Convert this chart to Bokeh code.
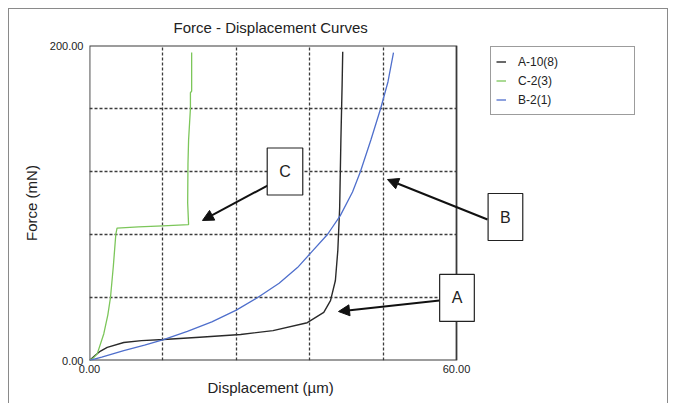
from bokeh.plotting import figure
from bokeh.models import Range1d, FixedTicker, Label, Arrow, NormalHead, Legend, LegendItem, Title
from bokeh.embed import file_html
from bokeh.resources import INLINE

# ---- data ----
series_names = ["A-10(8)", "C-2(3)", "B-2(1)"]

disp_a = [0, 1.0, 1.8, 2.9, 5.6, 8.5, 12.1, 18.0, 24.7, 30.0, 35.6, 38.3, 39.4, 40.2, 40.6, 40.9, 41.1, 41.3, 41.4]
force_a = [0, 3.5, 6.0, 8.3, 11.4, 12.6, 13.3, 14.8, 16.5, 19.0, 24.0, 30.5, 38.0, 50.8, 70.0, 97.0, 140.0, 175.0, 196.0]

disp_c = [0, 0.6, 1.26, 2.34, 3.0, 3.43, 3.9, 4.3, 4.5, 8.0, 12.0, 16.2, 16.05, 16.1, 16.2, 16.5, 16.5, 16.7, 16.7]
force_c = [0, 1.5, 4.2, 17.0, 29.0, 40.0, 60.0, 80.0, 84.0, 84.8, 85.5, 86.3, 100.0, 125.0, 140.0, 160.0, 170.0, 171.0, 195.5]

disp_b = [0, 2.0, 5.6, 9.0, 12.1, 16.0, 20.0, 24.0, 27.5, 31.0, 34.0, 36.1, 38.9, 41.0, 43.0, 44.3, 46.0, 47.6, 48.8, 49.7]
force_b = [0, 2.2, 6.3, 9.8, 13.3, 18.5, 24.5, 32.0, 40.0, 49.0, 59.0, 68.0, 80.0, 92.0, 107.0, 120.0, 140.0, 160.0, 177.0, 195.5]

x_ticks = [0, 60]
x_tick_labels = ["0.00", "60.00"]
y_ticks = [0, 200]
y_tick_labels = ["0.00", "200.00"]
x_grid = [12, 24, 36, 48]
y_grid = [40, 80, 120, 160]

# callouts: letter, box centre (x, y), arrow start (x, y), arrow tip (x, y)
callout_text = ["C", "B", "A"]
callout_box_x = [31.96, 68.0, 60.08]
callout_box_y = [120.0, 91.1, 39.7]
arrow_x0 = [29.1, 65.07, 57.22]
arrow_y0 = [111.1, 89.5, 38.1]
arrow_x1 = [18.47, 48.72, 40.71]
arrow_y1 = [88.9, 114.9, 31.1]

colors = ["#2a2a2a", "#7cc65a", "#4f6fcc"]

FONT = "Liberation Sans"

# layout (pixels)
W, H = 660, 395
LEFT, TOP, BOTTOM = 80, 36, 44
BOX_W = 367                      # width of the data box in pixels
FRAME_W = W - LEFT               # frame runs to the right edge (room for legend / callouts)
x_end = x_ticks[1] * FRAME_W / BOX_W

p = figure(width=W, height=H, output_backend="svg", toolbar_location=None,
           x_range=Range1d(x_ticks[0], x_end), y_range=Range1d(y_ticks[0], y_ticks[1]),
           min_border_left=LEFT, min_border_right=0, min_border_top=TOP, min_border_bottom=BOTTOM,
           background_fill_color="white", border_fill_color="white")
p.styles = {"margin-left": "8px", "margin-top": "8px",
            "border-top": "1px solid #8a8a8a", "border-left": "1px solid #8a8a8a",
            "border-right": "1px solid #8a8a8a"}
p.outline_line_color = None

p.title.text = "Force - Displacement Curves"
p.title.align = "left"
p.title.offset = 84
p.title.text_font = FONT
p.title.text_font_size = "15px"
p.title.text_font_style = "normal"
p.title.text_color = "#222222"
p.title.vertical_align = "top"
p.title.standoff = 15

for ax in (p.xaxis[0], p.yaxis[0]):
    ax.axis_line_color = None
    ax.major_tick_line_color = None
    ax.minor_tick_line_color = None
    ax.major_tick_out = 0
    ax.major_tick_in = 0
    ax.major_label_text_font = FONT
    ax.major_label_text_font_size = "11px"
    ax.major_label_text_color = "#222222"
    ax.axis_label_text_font = FONT
    ax.axis_label_text_font_size = "15px"
    ax.axis_label_text_font_style = "normal"
    ax.axis_label_text_color = "#222222"
p.xaxis.ticker = FixedTicker(ticks=x_ticks)
p.xaxis.major_label_overrides = dict(zip(x_ticks, x_tick_labels))
p.xaxis.bounds = (x_ticks[0], x_ticks[1])
p.yaxis.ticker = FixedTicker(ticks=y_ticks)
p.yaxis.major_label_overrides = dict(zip(y_ticks, y_tick_labels))
p.yaxis.axis_label = "Force (mN)"
p.xaxis.major_label_standoff = 4
p.yaxis.major_label_standoff = 6
p.yaxis.axis_label_standoff = 7

# x-axis title, centred under the data box (the frame extends further right)
x_title = Title(text="Displacement (µm)", align="left", offset=118, standoff=2,
                text_font=FONT, text_font_size="15px", text_font_style="normal",
                text_color="#222222")
p.add_layout(x_title, "below")

p.xgrid.ticker = FixedTicker(ticks=x_grid)
p.ygrid.ticker = FixedTicker(ticks=y_grid)
p.ygrid.cross_bounds = (x_ticks[0], x_ticks[1])
for g in (p.xgrid[0], p.ygrid[0]):
    g.grid_line_color = "#3c3c3c"
    g.grid_line_dash = "3 2"
    g.grid_line_width = 1.3

# the plot box
p.quad(left=[x_ticks[0]], right=[x_ticks[1]], bottom=[y_ticks[0]], top=[y_ticks[1]],
       fill_color=None, line_color="#3a3a3a", line_width=1.8)

r_a = p.line(disp_a, force_a, line_color=colors[0], line_width=1.4)
r_c = p.line(disp_c, force_c, line_color=colors[1], line_width=1.3)
r_b = p.line(disp_b, force_b, line_color=colors[2], line_width=1.3)

legend = Legend(items=[LegendItem(label=series_names[0], renderers=[r_a]),
                       LegendItem(label=series_names[1], renderers=[r_c]),
                       LegendItem(label=series_names[2], renderers=[r_b])],
                location=(401, 245), padding=5, spacing=0, margin=0,
                glyph_width=10, glyph_height=19, label_height=19, label_width=111,
                label_standoff=12, label_text_font=FONT, label_text_font_size="12px",
                label_text_color="#222222", border_line_color="#3a3a3a", border_line_width=1.2,
                background_fill_color="white", background_fill_alpha=1.0)
p.add_layout(legend, "center")

# callouts
for i in range(3):
    p.add_layout(Arrow(end=NormalHead(size=11, fill_color="#111111", line_color="#111111"),
                       x_start=arrow_x0[i], y_start=arrow_y0[i],
                       x_end=arrow_x1[i], y_end=arrow_y1[i],
                       line_color="#111111", line_width=2))
    p.add_layout(Label(x=callout_box_x[i], y=callout_box_y[i], text=callout_text[i],
                       text_align="center", text_baseline="middle",
                       text_font=FONT, text_font_size="16px", text_color="#222222",
                       border_line_color="#222222", border_line_width=1.2,
                       background_fill_color="white", padding=(12, 15)))

open("out.html", "w").write(file_html(p, INLINE))
